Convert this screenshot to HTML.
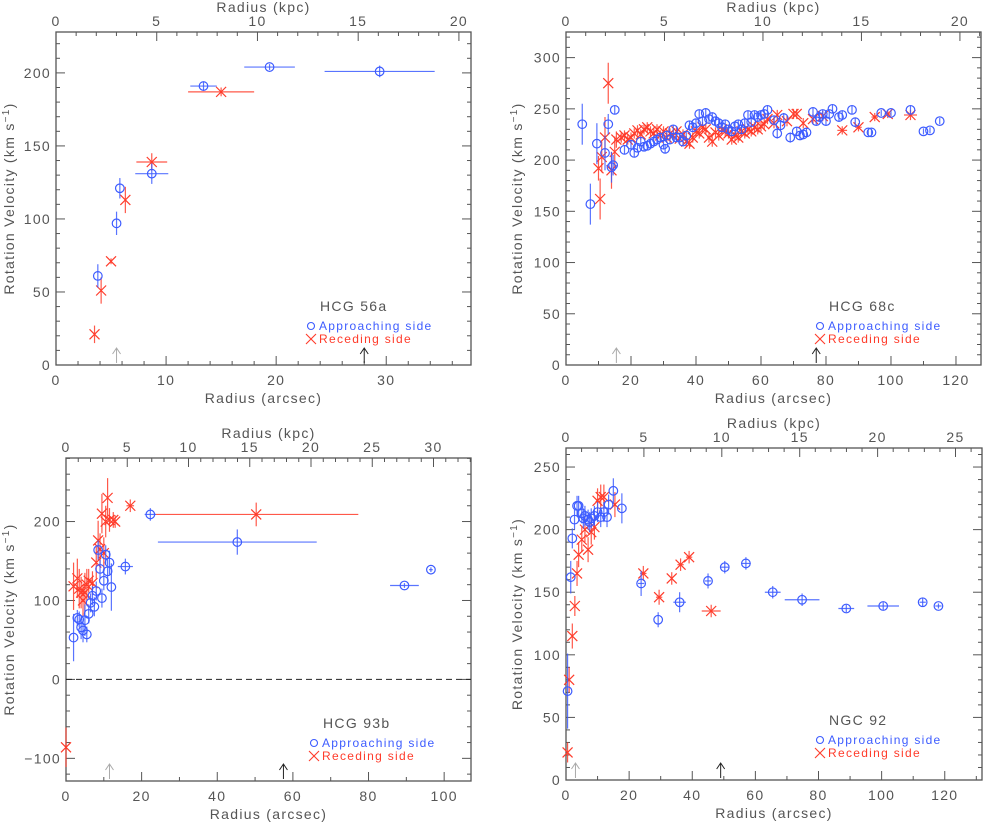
<!DOCTYPE html>
<html><head><meta charset="utf-8">
<style>
html,body{margin:0;padding:0;background:#fff;}
svg text{font-family:"Liberation Sans",sans-serif;fill:#555;}
.ttl{letter-spacing:1.3px;}
</style></head>
<body>
<svg id="fig" width="983" height="823" viewBox="0 0 983 823" xmlns="http://www.w3.org/2000/svg"></svg>
<script>
// ---------- data ----------
// each point: [radius_arcsec, velocity, xerr, verr]
const hcg56aApproaching = [[3.8,61,0,8],[5.5,97,0,8],[5.8,121,0,7],[8.7,131,1.5,7],[13.4,191,1.2,3],[19.4,204,2.3,2],[29.4,201,5,4]];
const hcg56aReceding = [[3.5,21,0,6],[4.1,51,0,9],[5.0,71,0,2],[6.3,113,0,9],[8.7,139,1.4,6],[15,187,3,3]];

const hcg68cApproaching = [[5,235,0,20],[7.5,157,0,20],[9.5,216,0,20],[12,207,0,17],[13,235,0,10],[14,193,0,15],[15,249,0,4],[14.5,195,0,10],
[18,210,0,4],[20,215,0,4],[21,207,0,4],[22,212,0,4],[23,218,0,4],[24,213,0,4],[25,214,0,4],[26,216,0,4],[27,218,0,4],[28,220,0,4],[29,222,0,4],[30,215,0,4],[30.5,211,0,4],[31,224,0,4],[32,220,0,4],[33,230,0,4],[34,222,0,4],[35,222,0,4],[36,218,0,4],[37,224,0,4],[38,234,0,4],[39,232,0,4],[40,236,0,4],[41,245,0,4],[42,238,0,4],[43,246,0,4],[44,240,0,4],[45,242,0,4],[46,238,0,4],[47,236,0,4],[48,232,0,4],[49,235,0,4],[50,230,0,4],[51,228,0,4],[52,233,0,4],[53,235,0,4],[54,230,0,4],[55,236,0,4],[56,244,0,4],[57,237,0,4],[58,244,0,4],[59,242,0,4],[60,244,0,4],[61,245,0,4],[62,249,0,4],[64,239,0,4],[65,226,0,5],[66,234,0,5],[67,241,0,5],[69,222,0,5],[71,228,0,4],[72,224,0,4],[73,225,0,4],[74,227,0,4],[76,247,0,4],[77,238,0,4],[78,242,0,4],[79,245,0,4],[80,238,0,4],[81,245,0,4],[82,250,0,4],[84,242,0,4],[85,244,0,4],[88,249,0,4],[89,237,0,4],[93,227,0,3],[94,227,0,3],[97,246,0,3],[100,246,0,3],[106,249,0,4],[110,228,0,3],[112,229,0,3],[115,238,0,3]];
const hcg68cReceding = [[10,192,0,12],[10.5,162,0,20],[11,203,0,15],[12,222,0,20],[13,275,0,20],[14,190,0,18],[15,208,0,15],[15.5,220,0,8],[17,222,0,5],[18,224,0,5],[19,220,0,5],[20,222,0,5],[21,226,0,5],[22,229,0,5],[23,225,0,5],[24,230,0,5],[25,232,0,5],[26,228,0,5],[27,226,0,5],[28,230,0,5],[29,224,0,5],[30,228,0,5],[31,222,0,5],[32,226,0,5],[33,224,0,5],[34,228,0,5],[35,221,0,5],[36,225,0,5],[37,218,0,5],[38,216,0,5],[39,222,0,5],[40,228,0,5],[41,226,0,5],[42,232,0,5],[43,230,0,5],[44,222,0,5],[45,218,0,5],[46,227,0,5],[47,224,0,5],[48,230,0,5],[49,228,0,5],[50,226,0,5],[51,220,0,5],[52,224,0,5],[53,222,0,5],[54,228,0,5],[55,226,0,5],[56,230,0,5],[57,228,0,5],[58,232,0,5],[59,230,0,5],[60,233,0,5],[61,235,0,5],[62,240,0,5],[64,236,0,5],[65,244,0,5],[68,238,0,5],[70,245,0,5],[71,245,0,5],[73,236,0,5],[76,240,0,5],[79,243,0,5],[85,229,1.5,4],[90,232,1,4],[95,242,1,4],[99,245,1,4],[106,244,2,5]];

const hcg93bApproaching = [[2,53,0,30],[3,78,0,10],[3.5,76,0,10],[4,66,0,15],[4.5,62,0,15],[5,75,0,20],[5.5,57,0,10],[6,83,0,12],[6.5,97,0,12],[7,106,0,12],[7.5,92,0,12],[8,112,0,12],[8.5,164,0,12],[9,140,0,12],[9.5,103,0,12],[10,125,0,12],[10.5,158,0,12],[11,137,0,15],[11.5,148,0,15],[12,117,0,30],[15.7,143,2,10],[22.3,209,1.5,8],[45.3,174,21,16],[89.5,119,3.8,3],[96.5,139,0.5,3]];
const hcg93bReceding = [[2,118,0,30],[3,128,0,25],[3.5,115,0,25],[4,110,0,20],[4.5,100,0,20],[5,110,0,25],[5.5,120,0,20],[6,125,0,15],[7,122,0,15],[8,148,0,20],[8.5,176,0,25],[9,165,0,20],[9.5,210,0,25],[10,160,0,20],[10.5,200,0,20],[11,230,0,25],[11.5,202,0,15],[12.5,202,0,10],[13,200,0,8],[17,220,1,8],[50.3,209,27,15],[0,-86,0,25]];

const ngc92Approaching = [[0.5,71,0,30],[1.5,162,0,13],[2,193,0,8],[2.7,208,0,8],[3.5,219,0,8],[4,219,0,8],[5,213,0,8],[5.5,209,0,8],[6,211,0,8],[7,208,0,8],[7.5,206,0,8],[8,209,0,8],[9,211,0,8],[10,214,0,8],[11,210,0,8],[12,214,0,8],[13,210,0,8],[13.5,220,0,8],[15,231,0,10],[17.7,217,0,12],[23.8,157,1,10],[29.2,128,0,6],[36,142,2,8],[45,159,1,6],[50.3,170,1.5,5],[57,173,1.5,5],[65.5,150,2.5,5],[74.8,144,5.5,5],[88.8,137,2.5,3],[100.5,139,5,3],[113,142,1,3],[118,139,1,2]];
const ngc92Receding = [[0.5,22,0,8],[1,80,0,10],[2,115,0,10],[2.8,139,0,8],[3.5,165,0,10],[4,180,0,10],[5,192,0,10],[6,200,0,10],[7,184,0,10],[8,198,0,10],[9,202,0,10],[10,223,0,10],[11,226,0,10],[12,226,0,10],[15.5,220,0,10],[24.5,165,1,6],[29.5,146,1,6],[33.5,161,0,5],[36.3,172,1,5],[39,178,1,5],[46,135,3,5]];

const xTicksArcsec56 = [0,10,20,30];
const xTicksArcsec68 = [0,20,40,60,80,100,120];
const xTicksArcsec93 = [0,20,40,60,80,100];
const xTicksArcsec92 = [0,20,40,60,80,100,120];
const kpcTicks20 = [0,5,10,15,20];
const kpcTicks30 = [0,5,10,15,20,25,30];
const kpcTicks25 = [0,5,10,15,20,25];
const yTicks56 = [0,50,100,150,200];
const yTicks68 = [0,50,100,150,200,250,300];
const yTicks93 = [-100,0,100,200];
const yTicks92 = [0,50,100,150,200,250];

// ---------- layout ----------
const panels = [
 {name:'hcg56a',label:'HCG 56a',L:56,R:471,T:32,B:365,xmax:37.7,ymin:0,ymax:228,kmax:20.6,xt:xTicksArcsec56,xm:2,kt:kpcTicks20,km:1,yt:yTicks56,ym:10,app:hcg56aApproaching,rec:hcg56aReceding,ar:[5.5,28],lx:320,ly:316,ytx:22},
 {name:'hcg68c',label:'HCG 68c',L:566,R:981,T:32,B:365,xmax:127.7,ymin:0,ymax:325,kmax:21.07,xt:xTicksArcsec68,xm:10,kt:kpcTicks20,km:1,yt:yTicks68,ym:10,app:hcg68cApproaching,rec:hcg68cReceding,ar:[15.5,77],lx:829,ly:316,ytx:530},
 {name:'hcg93b',label:'HCG 93b',L:66,R:471,T:458,B:781,xmax:107.1,ymin:-128.7,ymax:280.5,kmax:33.06,xt:xTicksArcsec93,xm:10,kt:kpcTicks30,km:1,yt:yTicks93,ym:20,app:hcg93bApproaching,rec:hcg93bReceding,ar:[11.5,57.5],lx:323,ly:733,ytx:22,zero:true},
 {name:'ngc92',label:'NGC 92',L:566,R:982,T:448,B:780,xmax:131.8,ymin:0,ymax:265.2,kmax:26.7,xt:xTicksArcsec92,xm:10,kt:kpcTicks25,km:1,yt:yTicks92,ym:10,app:ngc92Approaching,rec:ngc92Receding,ar:[3,49],lx:829,ly:730,ytx:530}
];
const NS='http://www.w3.org/2000/svg';
const svg=document.getElementById('fig');
function mk(tag,attrs,parent){const e=document.createElementNS(NS,tag);for(const k in attrs)e.setAttribute(k,attrs[k]);(parent||svg).appendChild(e);return e;}
const BLUE='#3d5cff', RED='#ff3b2a', AX='#555';

panels.forEach(p=>{
 const g=mk('g',{});
 
 
 const sx=v=>p.L+(v/p.xmax)*(p.R-p.L);
 const sk=v=>p.L+(v/p.kmax)*(p.R-p.L);
 const sy=v=>p.B-(v-p.ymin)/(p.ymax-p.ymin)*(p.B-p.T);
 const frame=mk('rect',{x:p.L,y:p.T,width:p.R-p.L,height:p.B-p.T,fill:'none',stroke:AX,'stroke-width':1.3},g);
 
 
 for(let v=0;v<=p.xmax;v+=p.xm){const x=sx(v);const major=p.xt.includes(Math.round(v*100)/100);const len=major?9:4;
  mk('line',{x1:x,x2:x,y1:p.B,y2:p.B-len,stroke:AX,'stroke-width':1},g);}
 p.xt.forEach(v=>{const t=mk('text',{x:sx(v),y:p.B+20,'text-anchor':'middle','font-size':14,class:'ttl'},g);t.textContent=v;
  });
 for(let v=0;v<=p.kmax;v+=p.km){const x=sk(v);const major=p.kt.includes(v);
  mk('line',{x1:x,x2:x,y1:p.T,y2:p.T+(major?9:4),stroke:AX,'stroke-width':1},g);}
 p.kt.forEach(v=>{const t=mk('text',{x:sk(v),y:p.T-6,'text-anchor':'middle','font-size':14,class:'ttl'},g);t.textContent=v;
  });
 const y0=Math.ceil(p.ymin/p.ym)*p.ym;
 for(let v=y0;v<=p.ymax;v+=p.ym){const y=sy(v);const major=p.yt.includes(v);const len=major?9:4;
  mk('line',{x1:p.L,x2:p.L+len,y1:y,y2:y,stroke:AX,'stroke-width':1},g);
  mk('line',{x1:p.R,x2:p.R-len,y1:y,y2:y,stroke:AX,'stroke-width':1},g);}
 p.yt.forEach(v=>{const t=mk('text',{x:p.L-5,y:sy(v)+5,'text-anchor':'end','font-size':14,class:'ttl'},g);t.textContent=v<0?'\u2212'+(-v):v;
  });
 const cx=(p.L+p.R)/2;
 let t=mk('text',{x:cx,y:p.T-20,'text-anchor':'middle','font-size':14,class:'ttl'},g);t.textContent='Radius (kpc)';
 
 t=mk('text',{x:cx,y:p.B+38,'text-anchor':'middle','font-size':14,class:'ttl'},g);t.textContent='Radius (arcsec)';
 
 const cy=(p.T+p.B)/2;
 t=mk('text',{x:0,y:0,'text-anchor':'middle','font-size':14,class:'ttl',transform:`translate(${p.ytx-8},${cy}) rotate(-90)`},g);
 t.innerHTML='Rotation Velocity (km s<tspan dy="-5" font-size="10">\u22121</tspan><tspan dy="5">)</tspan>';
 
 if(p.zero){const z=mk('line',{x1:p.L,x2:p.R,y1:sy(0),y2:sy(0),stroke:'#222','stroke-dasharray':'6,4','stroke-width':1},g);
  }
 p.ar.forEach((v,i)=>{const col=i==0?'#aaa':'#222';const x=sx(v);const a=mk('path',{d:`M${x},${p.B-2} L${x},${p.B-16} M${x-4},${p.B-11} L${x},${p.B-17} L${x+4},${p.B-11}`,stroke:col,fill:'none','stroke-width':1},g);
  });
 const drawErr=(d,col)=>{const x=sx(d[0]),y=sy(d[1]);
  if(d[2])mk('line',{x1:sx(d[0]-d[2]),x2:sx(d[0]+d[2]),y1:y,y2:y,stroke:col,'stroke-width':1.2,opacity:0.85},g);
  if(d[3])mk('line',{x1:x,x2:x,y1:sy(d[1]-d[3]),y2:sy(d[1]+d[3]),stroke:col,'stroke-width':1.2,opacity:0.85},g);};
 p.rec.forEach(d=>{drawErr(d,RED);const x=sx(d[0]),y=sy(d[1]),s=5;
  const m=mk('path',{d:`M${x-s},${y-s}L${x+s},${y+s}M${x-s},${y+s}L${x+s},${y-s}`,stroke:RED,'stroke-width':1.2,fill:'none'},g);
  });
 p.app.forEach(d=>{drawErr(d,BLUE);
  const c=mk('circle',{cx:sx(d[0]),cy:sy(d[1]),r:4.3,fill:'none',stroke:BLUE,'stroke-width':1.2},g);
  });
 t=mk('text',{x:p.lx,y:p.ly-5,'font-size':14,class:'ttl'},g);t.textContent=p.label;
 
 const lc=mk('circle',{cx:p.lx-9,cy:p.ly+10,r:3.5,fill:'none',stroke:BLUE,'stroke-width':1.1},g);
 
 t=mk('text',{x:p.lx-1,y:p.ly+14,'font-size':12,class:'ttl',style:'fill:'+BLUE},g);t.textContent='Approaching side';
 
 const lx=mk('path',{d:`M${p.lx-14},${p.ly+18}L${p.lx-4},${p.ly+28}M${p.lx-14},${p.ly+28}L${p.lx-4},${p.ly+18}`,stroke:RED,'stroke-width':1.1},g);
 
 t=mk('text',{x:p.lx-1,y:p.ly+27,'font-size':12,class:'ttl',style:'fill:'+RED},g);t.textContent='Receding side';
 
});
</script>
</body></html>
